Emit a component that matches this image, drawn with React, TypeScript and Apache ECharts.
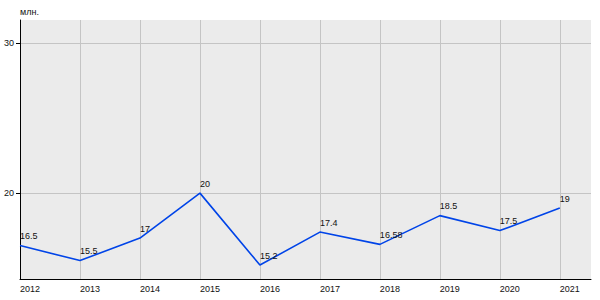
import React, { useEffect, useRef } from "react";
import * as echarts from "echarts";

const years = [2012, 2013, 2014, 2015, 2016, 2017, 2018, 2019, 2020, 2021];
const values = [16.5, 15.5, 17, 20, 15.2, 17.4, 16.58, 18.5, 17.5, 19];
const yTicks = [20, 30];
const unitLabel = "млн.";

const FONT = "Arial, 'Liberation Sans', sans-serif";

export default function App() {
  const ref = useRef<HTMLDivElement>(null);
  useEffect(() => {
    if (!ref.current) return;
    const chart = echarts.init(ref.current, undefined, { renderer: "svg" });
    chart.setOption({
      animation: false,
      textStyle: { fontFamily: FONT },
      title: {
        text: unitLabel,
        left: 20,
        top: 7,
        padding: 0,
        textStyle: { fontSize: 9, fontWeight: "normal", color: "#111", fontFamily: FONT },
      },
      grid: {
        left: 20,
        right: 9,
        top: 20,
        bottom: 21,
        show: true,
        backgroundColor: "#ebebeb",
        borderWidth: 0,
        containLabel: false,
        outerBoundsMode: "none",
      },
      xAxis: {
        type: "value",
        min: 2012,
        max: 2021.52,
        axisLine: { show: true, lineStyle: { color: "#000", width: 1 } },
        axisTick: { show: false, customValues: years },
        axisLabel: {
          customValues: years,
          align: "left",
          margin: 5,
          fontSize: 9,
          color: "#111",
          fontFamily: FONT,
          overflow: "none",
          formatter: (v: number) => String(v),
        },
        splitLine: { show: true, lineStyle: { color: "#c4c4c4", width: 1 } },
      },
      yAxis: {
        type: "value",
        min: 14.27,
        max: 31.55,
        axisLine: { show: true, lineStyle: { color: "#000", width: 1 } },
        axisTick: { show: true, length: 4, customValues: yTicks, lineStyle: { color: "#000" } },
        axisLabel: {
          customValues: yTicks,
          margin: 6,
          fontSize: 9,
          color: "#111",
          fontFamily: FONT,
          overflow: "none",
          width: 30,
          align: "right",
          formatter: (v: number) => String(v),
        },
        splitLine: { show: true, lineStyle: { color: "#c4c4c4", width: 1 } },
      },
      series: [
        {
          type: "line",
          data: years.map((y, i) => [y, values[i]]),
          symbol: "circle",
          symbolSize: 0.1,
          itemStyle: { color: "#0044e8" },
          lineStyle: { color: "#0044e8", width: 1.6 },
          label: {
            show: true,
            position: "top",
            distance: 5,
            align: "left",
            fontSize: 9,
            color: "#111",
            fontFamily: FONT,
            formatter: (p: any) => String(p.value[1]),
          },
        },
      ],
    });
    return () => chart.dispose();
  }, []);
  return (
    <div
      ref={ref}
      style={{ position: "absolute", left: 0, top: 0, width: 600, height: 300 }}
    />
  );
}
